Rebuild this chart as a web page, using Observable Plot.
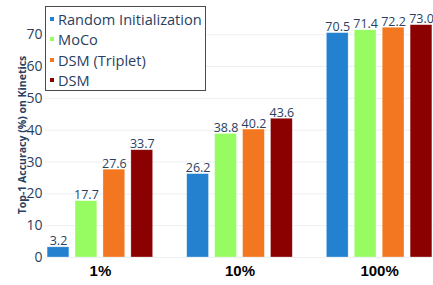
<!DOCTYPE html>
<html>
<head>
<meta charset="utf-8">
<script src="https://cdn.jsdelivr.net/npm/d3@7"></script>
<script src="https://cdn.jsdelivr.net/npm/@observablehq/plot@0.6"></script>
<style>
  html, body { margin: 0; padding: 0; background: #fff; }
  #wrap { position: relative; width: 433px; height: 285px; overflow: hidden; }
  #legend {
    position: absolute; left: 45px; top: 6px; width: 161px; height: 85px;
    box-sizing: border-box; border: 1px solid #4a4a4a; background: #fff;
    font-family: 'Open Sans', sans-serif; font-size: 14.6px; color: #2a3f5f;
    padding-top: 2px;
  }
  #legend .row { height: 20.4px; line-height: 20.4px; white-space: nowrap; position: relative; padding-left: 12px; }
  #legend .sw { position: absolute; left: 4px; top: 8px; width: 4px; height: 4px; }
</style>
</head>
<body>
<div id="wrap"><div id="legend"></div></div>
<script>
const groups = ["1%", "10%", "100%"];
const methods = ["Random Initialization", "MoCo", "DSM (Triplet)", "DSM"];
const randomInit = [3.2, 26.2, 70.5];
const moco = [17.7, 38.8, 71.4];
const dsmTriplet = [27.6, 40.2, 72.2];
const dsm = [33.7, 43.6, 73.0];
const colors = ["#2381d0", "#97fc62", "#f37720", "#8b0000"];
const yTicks = [0, 10, 20, 30, 40, 50, 60, 70];
const yTitle = "Top-1 Accuracy (%) on Kinetics";

const series = [randomInit, moco, dsmTriplet, dsm];
const slot = methods.length + 1;
const data = groups.flatMap((g, gi) => methods.map((m, mi) => ({
  group: g, method: m, value: series[mi][gi], pos: gi * slot + mi
})));
const groupData = groups.map((g, gi) => ({group: g, pos: gi * slot + (methods.length - 1) / 2}));

const chart = Plot.plot({
  width: 433,
  height: 285,
  marginLeft: 45,
  marginRight: 0,
  marginTop: 12,
  marginBottom: 28,
  style: {fontFamily: "'Open Sans', sans-serif", fontSize: "14px", color: "#2a3f5f", background: "transparent"},
  x: {domain: [0, groups.length * slot - 2], range: [58, 421], axis: null},
  y: {domain: [0, 75], range: [257, 18.3], ticks: yTicks, tickSize: 0, tickPadding: 3, label: null},
  color: {domain: methods, range: colors},
  marks: [
    Plot.ruleY(yTicks, {stroke: "#eceff3", strokeWidth: 1}),
    Plot.rectY(data, {x1: d => d.pos - 0.39, x2: d => d.pos + 0.39, y1: 0, y2: "value", fill: "method", stroke: "white", strokeWidth: 0.6, strokeOpacity: 0.5}),
    Plot.text(data, {x: "pos", y: "value", text: d => d.value.toFixed(1), lineAnchor: "bottom", dy: -2, fill: "#2a3f5f", fontSize: 12.5}),
    Plot.text(groupData, {x: "pos", text: "group", frameAnchor: "bottom", dy: 18, fill: "#000", fontWeight: "bold", fontSize: 15, fontFamily: "'Liberation Sans', Arial, sans-serif"}),
    Plot.text([yTitle], {frameAnchor: "left", textAnchor: "middle", rotate: -90, dx: -23, dy: 0, fill: "#2a3f5f", fontWeight: "bold", fontSize: 10.5})
  ]
});
document.getElementById("wrap").prepend(chart);

const legend = document.getElementById("legend");
methods.forEach((m, i) => {
  const row = document.createElement("div");
  row.className = "row";
  const sw = document.createElement("span");
  sw.className = "sw";
  sw.style.background = colors[i];
  row.appendChild(sw);
  row.appendChild(document.createTextNode(m));
  legend.appendChild(row);
});
</script>
</body>
</html>
